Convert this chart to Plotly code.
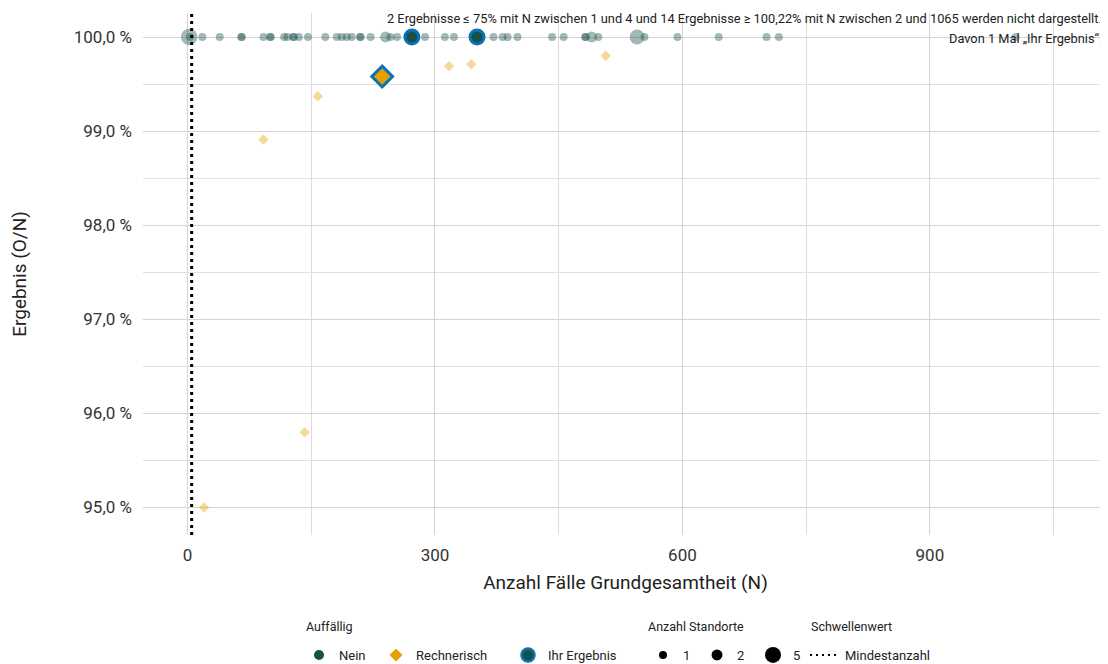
import plotly.graph_objects as go

# Auffällig: Nein (alle bei 100 %)
nein_n = [2, 3, 18, 39, 65, 66, 92, 100, 101, 117, 121, 128, 129, 135, 146, 167,
          181, 187, 193, 199, 209, 210, 222, 240, 246, 254, 288, 312, 323, 371,
          382, 388, 400, 442, 456, 482, 483, 490, 498, 545, 554, 594, 644, 702,
          717, 1004]
nein_y = [100.0] * len(nein_n)
nein_standorte = [5, 1, 1, 1, 1, 1, 1, 1, 1, 1, 1, 1, 1, 1, 1, 1,
                  1, 1, 1, 1, 1, 1, 1, 2, 1, 1, 1, 1, 1, 1,
                  1, 1, 1, 1, 1, 1, 1, 2, 1, 4, 1, 1, 1, 1,
                  1, 1]

# Auffällig: Rechnerisch
rech_n = [20, 92, 142, 158, 317, 344, 507]
rech_y = [95.00, 98.91, 95.80, 99.37, 99.69, 99.71, 99.80]

# Ihr Ergebnis
ihr_n_nein = [272, 351]
ihr_y_nein = [100.0, 100.0]
ihr_n_rech = [236]
ihr_y_rech = [99.58]

mindestanzahl = 5
size_legend = [1, 2, 5]

y_ticks = [95, 96, 97, 98, 99, 100]
y_ticktext = ["95,0 %", "96,0 %", "97,0 %", "98,0 %", "99,0 %", "100,0 %"]
x_ticks = [0, 300, 600, 900]

TEAL = "#18504B"
ORANGE = "#E69F00"
BLUE = "#0A72B5"
FONT = "Roboto"

# page body has an 8px margin -> work in absolute page pixels and convert
OFF = 8
FIG_W, FIG_H = 1100, 656
PLOT_L, PLOT_R, PLOT_T, PLOT_B = 143, 1108, 13, 535


def px_size(count):
    return 8 * count ** 0.45


def cx(px):
    return (px - OFF) / FIG_W


def cy(py):
    return 1 - (py - OFF) / FIG_H


def paper_x(px):
    return (px - PLOT_L) / (PLOT_R - PLOT_L)


def paper_y(py):
    return (PLOT_B - py) / (PLOT_B - PLOT_T)


fig = go.Figure()

fig.add_trace(go.Scatter(
    x=nein_n, y=nein_y, mode="markers", showlegend=False, hoverinfo="skip",
    marker=dict(color=TEAL, opacity=0.4, size=[px_size(c) for c in nein_standorte],
                line=dict(width=0)),
))
fig.add_trace(go.Scatter(
    x=rech_n, y=rech_y, mode="markers", showlegend=False, hoverinfo="skip",
    marker=dict(color=ORANGE, opacity=0.4, symbol="diamond", size=8, line=dict(width=0)),
))
fig.add_trace(go.Scatter(
    x=ihr_n_nein, y=ihr_y_nein, mode="markers", showlegend=False, hoverinfo="skip",
    marker=dict(color=TEAL, size=14, line=dict(color=BLUE, width=3)),
))
fig.add_trace(go.Scatter(
    x=ihr_n_rech, y=ihr_y_rech, mode="markers", showlegend=False, hoverinfo="skip",
    marker=dict(color=ORANGE, symbol="diamond", size=16, line=dict(color=BLUE, width=3)),
))

fig.add_shape(type="line", x0=mindestanzahl, x1=mindestanzahl, xref="x",
              y0=0, y1=1, yref="paper", line=dict(color="black", width=3, dash="3px,4px"))

# legend entries, one legend box each so they can sit where the original has them
legend_y = cy(655)
entries = [
    ("Nein", dict(mode="markers", marker=dict(color=TEAL, size=10)), 339),
    ("Rechnerisch", dict(mode="markers", marker=dict(color=ORANGE, symbol="diamond", size=10)), 416),
    ("Ihr Ergebnis", dict(mode="markers", marker=dict(color=TEAL, size=13, line=dict(color=BLUE, width=2.5))), 548),
]
for c, text_x in zip(size_legend, [683, 737, 793]):
    entries.append((str(c), dict(mode="markers", marker=dict(color="black", size=px_size(c))), text_x))
entries.append(("Mindestanzahl", dict(mode="lines", line=dict(color="black", width=2, dash="2px,4px")), 845))

legends = {}
for i, (name, style, text_x) in enumerate(entries):
    key = "legend" if i == 0 else f"legend{i + 1}"
    fig.add_trace(go.Scatter(x=[None], y=[None], name=name, legend=key, **style))
    legends[key] = dict(
        orientation="h", xref="container", yref="container", x=cx(text_x - 40), y=legend_y,
        xanchor="left", yanchor="middle", bgcolor="rgba(0,0,0,0)", borderwidth=0,
        font=dict(size=13, color="#222"), itemsizing="trace",
    )
fig.update_layout(**legends)

for title, left in [("Auffällig", 304), ("Anzahl Standorte", 646), ("Schwellenwert", 809)]:
    fig.add_annotation(text=title, xref="paper", yref="paper", x=paper_x(left), y=paper_y(626),
                       xanchor="left", yanchor="middle", showarrow=False,
                       font=dict(size=12.5, color="#222", family=FONT))

note_lines = [
    ("2 Ergebnisse ≤ 75% mit N zwischen 1 und 4 und 14 Ergebnisse ≥ 100,22% mit N zwischen 2 und 1065 "
     "werden nicht dargestellt.", 19),
    ("Davon 1 Mal „Ihr Ergebnis“.", 39),
]
for text, yy in note_lines:
    fig.add_annotation(text=text, xref="paper", yref="paper", x=paper_x(1104), y=paper_y(yy),
                       xanchor="right", yanchor="middle", showarrow=False,
                       font=dict(size=12.8, color="#222", family=FONT))

fig.update_xaxes(
    range=[-54, 1116], tickvals=x_ticks, showline=False, zeroline=False,
    gridcolor="#d4d4d4", gridwidth=1.4, ticklabelstandoff=8,
    minor=dict(tickvals=[150, 450, 750, 1050], showgrid=True, gridcolor="#dcdcdc", gridwidth=1.4),
    title=dict(text="Anzahl Fälle Grundgesamtheit (N)", font=dict(size=19, color="#222"), standoff=11),
    tickfont=dict(size=17, color="#333"),
)
fig.update_yaxes(
    range=[94.708, 100.255], tickvals=y_ticks, ticktext=y_ticktext,
    showline=False, zeroline=False, gridcolor="#d4d4d4", gridwidth=1.4,
    ticklabelstandoff=10,
    minor=dict(tickvals=[95.5, 96.5, 97.5, 98.5, 99.5], showgrid=True, gridcolor="#e0e0e0", gridwidth=1.4),
    title=dict(text="Ergebnis (O/N)", font=dict(size=19, color="#222"), standoff=43),
    tickfont=dict(size=17, color="#333"),
)

fig.update_layout(
    width=FIG_W, height=FIG_H,
    margin=dict(l=PLOT_L - OFF, r=OFF + FIG_W - PLOT_R, t=PLOT_T - OFF, b=OFF + FIG_H - PLOT_B),
    plot_bgcolor="white", paper_bgcolor="white",
    font=dict(family=FONT, color="#222"),
)

fig.write_html("out.html")
